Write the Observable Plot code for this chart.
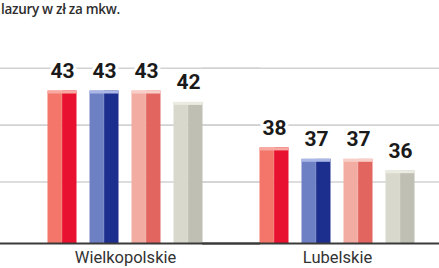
<!DOCTYPE html>
<html>
<head>
<meta charset="utf-8">
<script src="https://cdn.jsdelivr.net/npm/d3@7"></script>
<script src="https://cdn.jsdelivr.net/npm/@observablehq/plot@0.6"></script>
<style>
  html, body { margin: 0; padding: 0; background: #fff; }
  #title { height: 20px; line-height: 20px; font: 600 13.5px "Open Sans", sans-serif; color: #2e2e2e; padding-left: 1px; white-space: nowrap; letter-spacing: -0.3px; }
</style>
</head>
<body>
<div id="title">lazury w zł za mkw.</div>
<div id="chart"></div>
<script>
// Data
const regions = ["Wielkopolskie", "Lubelskie"];
const series = ["seria 1", "seria 2", "seria 3", "seria 4"];
const valuesWielkopolskie = [43, 43, 43, 42];
const valuesLubelskie = [38, 37, 37, 36];
const gridTicks = [35, 40, 45];
const yMin = 29.6, yMax = 49.2;

// Styles
const leftFace  = ["#f4766b", "#6e80c4", "#f3aca2", "#d8d9cc"];
const rightFace = ["#e8112f", "#1c2e8e", "#e2655f", "#bfc0b3"];
const capFace   = ["#f8aaa2", "#aab6e6", "#f8cfc8", "#ebebe2"];

const regionValues = [valuesWielkopolskie, valuesLubelskie];
const data = regions.flatMap((r, i) => series.map((s, j) => ({region: r, series: s, value: regionValues[i][j], k: j})));

const chart = Plot.plot({
  width: 439,
  height: 248,
  marginLeft: 29.5,
  marginRight: 7,
  marginTop: 0,
  marginBottom: 25,
  style: {fontFamily: "Roboto, sans-serif", fontSize: "16.5px", color: "#333", background: "white"},
  fx: {domain: regions, paddingInner: 0.106, paddingOuter: 0, axis: "bottom", tickSize: 0, tickPadding: 8, label: null},
  x: {domain: series, paddingInner: 0.31, paddingOuter: 0.4, axis: null},
  y: {domain: [yMin, yMax], axis: null},
  color: {type: "identity"},
  marks: [
    Plot.ruleY(gridTicks, {stroke: "#d2d2d2", strokeWidth: 1.6, insetLeft: -40, insetRight: -40}),
    Plot.barY(data, {fx: "region", x: "series", y1: yMin, y2: "value", fill: d => leftFace[d.k], insetRight: 14.6}),
    Plot.barY(data, {fx: "region", x: "series", y1: yMin, y2: "value", fill: d => rightFace[d.k], insetLeft: 14.6}),
    Plot.tickY(data, {fx: "region", x: "series", y: "value", stroke: d => capFace[d.k], strokeWidth: 3, dy: 1}),
    Plot.ruleY([yMin], {stroke: "#3a3a3a", strokeWidth: 2, insetLeft: -40, insetRight: -40}),
    Plot.text(data, {fx: "region", x: "series", y: "value", text: "value", lineAnchor: "bottom", dy: -13,
      fontSize: 21, fontWeight: "bold", fill: "#1a1a1a", stroke: "white", strokeWidth: 6})
  ]
});
document.getElementById("chart").appendChild(chart);
</script>
</body>
</html>
